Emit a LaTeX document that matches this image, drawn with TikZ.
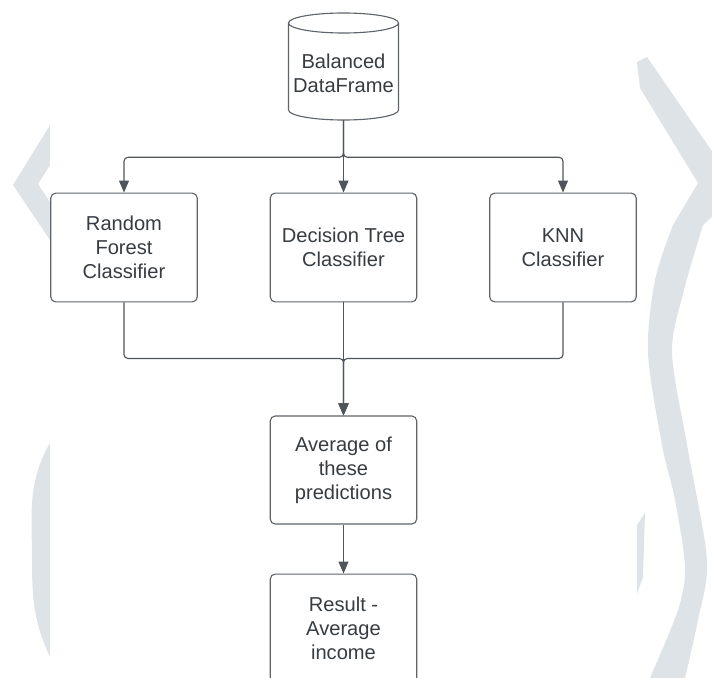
\documentclass[tikz,border=0pt]{standalone}
\usepackage{fontspec}
\setmainfont{Liberation Sans}
\usetikzlibrary{arrows.meta}
\definecolor{wmark}{RGB}{221,227,231}
\definecolor{edgecol}{RGB}{95,100,106}
\definecolor{inkcol}{RGB}{55,60,66}
\definecolor{linkcol}{RGB}{80,85,91}
\tikzset{
    textstyle/.style={align=center, text=inkcol, inner sep=0pt, font=\fontsize{14.3}{17}\selectfont},
    boxstyle/.style={textstyle, draw=edgecol, fill=white, line width=0.8pt, rounded corners=3.5pt, minimum width=3.66cm, minimum height=2.72cm},
    cylstyle/.style={draw=edgecol, line width=0.8pt},
    linkstyle/.style={draw=linkcol, line width=0.8pt, rounded corners=2.8pt, -{Triangle[length=0.3cm, width=0.25cm]}}
}

\begin{document}
\begin{tikzpicture}[x=0.025cm, y=-0.025cm]

    \useasboundingbox (0,0) rectangle (712,678);
    \clip (0,0) rectangle (712,678);

    % ================= BACKGROUND MARKS =================
    \fill[wmark] (50,125) -- (13,185) -- (50,240) -- (50,202) -- (38,184) -- (50,165) -- cycle;
    \fill[wmark] (50,443) to[out=240,in=90] (32,560) to[out=270,in=115] (50,657) -- cycle;
    \fill[wmark] (637,62) -- (647,57) -- (725,170) -- (725,205)
        -- plot[smooth] coordinates {(703,225) (684,290) (672,353) (688,450) (707,560) (698,620) (685,678)}
        -- (685,690) -- (650,690)
        -- plot[smooth] coordinates {(650,678) (678,610) (685,567) (675,500) (662,445) (648,353) (655,280) (673,225)}
        -- (698,183) -- (640,88) -- cycle;
    \fill[wmark] (637,525) -- (645,513) -- (643,577) -- (637,594) -- cycle;
    \fill[white] (50,0) rectangle (637,678);

    % ================= SOURCE =================
    \node[textstyle, minimum width=2.75cm, minimum height=2.35cm] (data) at (343.5,73) {Balanced\\DataFrame};
    \draw[cylstyle] (288.5,23) -- (288.5,110)
        arc[start angle=180, end angle=360, x radius=1.375cm, y radius=0.25cm]
        -- (398.5,23)
        arc[start angle=0, end angle=180, x radius=1.375cm, y radius=0.25cm]
        arc[start angle=180, end angle=360, x radius=1.375cm, y radius=0.25cm];

    % ================= CLASSIFIERS =================
    \def\clfy{247.5}
    \node[boxstyle] (rf) at (124,\clfy) {Random\\Forest\\Classifier};
    \node[boxstyle] (dt) at (343.5,\clfy) {Decision Tree\\Classifier};
    \node[boxstyle] (knn) at (563,\clfy) {KNN\\Classifier};

    % ================= COMBINE =================
    \node[boxstyle, minimum height=2.7cm] (avg) at (343.5,470) {Average of\\these\\predictions};
    \node[boxstyle] (res) at (343.5,628.5) {Result -\\Average\\income};

    % split
    \draw[linkstyle] (data.south) -- (dt.north);
    \draw[linkstyle] (data.south) -- ++(0,37) -| (rf.north);
    \draw[linkstyle] (data.south) -- ++(0,37) -| (knn.north);

    % merge
    \draw[linkstyle] (dt.south) -- (avg.north);
    \draw[linkstyle] (rf.south) -- ++(0,56) -| (avg.north);
    \draw[linkstyle] (knn.south) -- ++(0,56) -| (avg.north);
    \draw[linkstyle] (avg.south) -- (res.north);

\end{tikzpicture}
\end{document}
